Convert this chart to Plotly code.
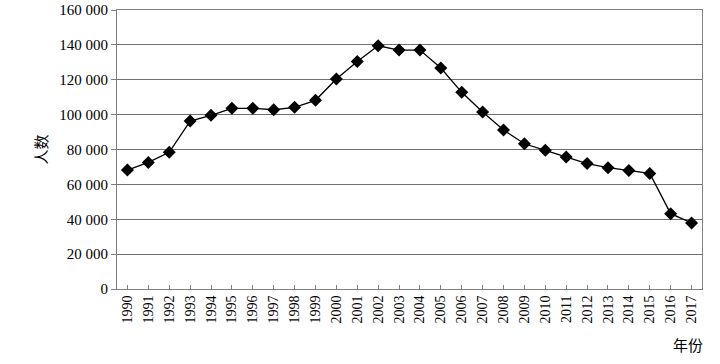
import plotly.graph_objects as go

years = [str(y) for y in range(1990, 2018)]
people = [68200, 72600, 78400, 96300, 99600, 103600, 103600, 102800, 104200, 108200,
          120400, 130500, 139500, 137000, 137000, 126700, 112800, 101500, 91200, 83300,
          79500, 75700, 71900, 69600, 68000, 66300, 43200, 37900]
y_ticks = [0, 20000, 40000, 60000, 80000, 100000, 120000, 140000, 160000]

FONT = "Liberation Serif"
CJK = "Noto Sans CJK SC"

fig = go.Figure()
fig.add_trace(go.Scatter(
    x=years, y=people, mode="lines+markers",
    line=dict(color="black", width=1.3),
    marker=dict(symbol="diamond", size=10, color="black"),
    showlegend=False,
))

fig.update_layout(
    width=720, height=364,
    margin=dict(l=117, r=18, t=10, b=75),
    paper_bgcolor="white", plot_bgcolor="white",
    font=dict(family=FONT, size=14, color="black"),
    separators=". ",
    xaxis=dict(
        type="category", tickangle=-90, automargin=False,
        showline=True, linecolor="#808080", linewidth=1, mirror=True,
        ticks="inside", ticklen=4, tickcolor="#808080",
        showgrid=False, range=[-0.5, 27.5],
        tickfont=dict(family=FONT, size=14),
    ),
    yaxis=dict(
        range=[0, 160000], tickvals=y_ticks, tickformat=",d", automargin=False,
        showline=True, linecolor="#808080", linewidth=1, mirror=True,
        ticks="outside", ticklen=5, tickcolor="#808080",
        showgrid=True, gridcolor="#707070", gridwidth=1,
        zeroline=False,
        title=dict(text="人数", standoff=8, font=dict(family=CJK, size=15)),
        tickfont=dict(family=FONT, size=15),
    ),
    annotations=[dict(
        text="年份", xref="paper", yref="paper", x=1.005, y=-0.2, xanchor="right",
        yanchor="middle", showarrow=False, font=dict(family=CJK, size=15),
    )],
)

fig.write_html("out.html", config={"displayModeBar": False},
               post_script="document.body.style.margin='0';")
